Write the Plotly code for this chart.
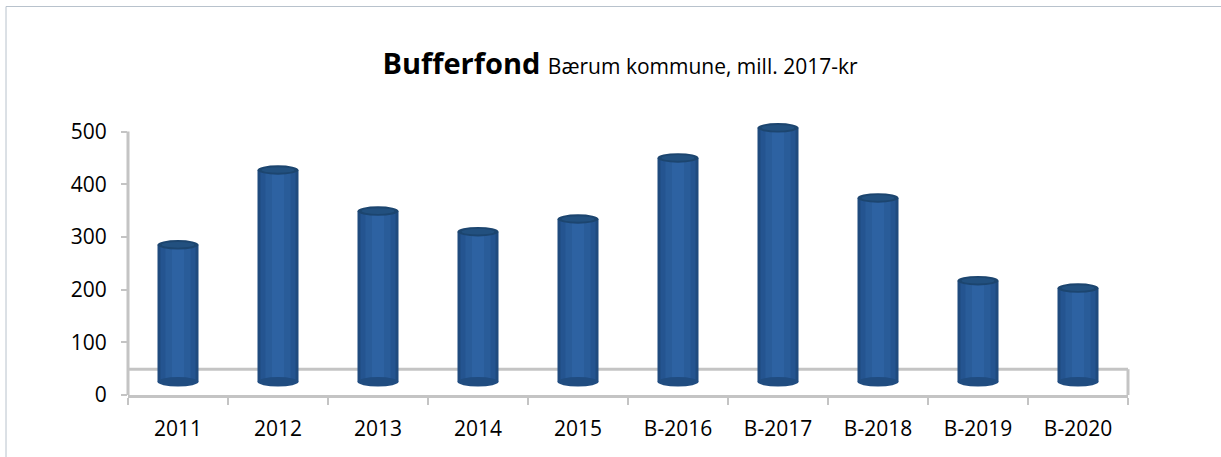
import plotly.graph_objects as go

categories = ["2011", "2012", "2013", "2014", "2015", "B-2016", "B-2017", "B-2018", "B-2019", "B-2020"]
values = [260, 402, 324, 285, 309, 425, 482, 349, 192, 178]
y_ticks = [0, 100, 200, 300, 400, 500]

# style constants (3D look emulation)
FLOOR_MID = 25      # bars sit mid-depth on the floor
FLOOR_BACK = 49     # back edge of the floor
CAP = 9             # half height of cylinder caps, axis units
W = 0.41
Y_MAX = 520
AX_TOP = 500

W_PX, H_PX = 1221, 457
L, R, T, B = 128, 93, 121, 62

fig = go.Figure()
x_idx = list(range(len(categories)))
shades = [(W, "#1f4a7e"), (0.35, "#245490"), (0.25, "#295c99"), (0.12, "#2d62a2")]
for w, c in shades:
    fig.add_trace(go.Bar(x=categories, y=values, base=[FLOOR_MID] * len(values),
                         width=w, marker=dict(color=c, line=dict(width=0)),
                         hoverinfo="skip", showlegend=False))

GRAY = "#c4c4c4"
shapes = []
# y axis line (only up to the top tick)
shapes.append(dict(type="line", xref="paper", yref="paper", x0=0, x1=0, y0=0, y1=AX_TOP / Y_MAX,
                   line=dict(color=GRAY, width=3), layer="below"))
# floor
shapes.append(dict(type="line", xref="paper", yref="paper", x0=0, x1=1,
                   y0=FLOOR_BACK / Y_MAX, y1=FLOOR_BACK / Y_MAX, line=dict(color=GRAY, width=3), layer="below"))
shapes.append(dict(type="line", xref="paper", yref="paper", x0=1, x1=1,
                   y0=0, y1=FLOOR_BACK / Y_MAX, line=dict(color=GRAY, width=3), layer="below"))
for i, v in zip(x_idx, values):
    base = FLOOR_MID
    top = FLOOR_MID + v
    shapes.append(dict(type="circle", xref="x", yref="y", x0=i - W / 2, x1=i + W / 2,
                       y0=base - CAP, y1=base + CAP, fillcolor="#204c80", line=dict(width=0), layer="above"))
    shapes.append(dict(type="circle", xref="x", yref="y", x0=i - W / 2, x1=i + W / 2,
                       y0=top - CAP, y1=top + CAP, fillcolor="#1c456f", line=dict(width=0), layer="above"))
    shapes.append(dict(type="circle", xref="x", yref="y", x0=i - W / 2 + 0.04, x1=i + W / 2 - 0.04,
                       y0=top - CAP * 0.6, y1=top + CAP * 0.6, fillcolor="#22507f", line=dict(width=0), layer="above"))

# chart area border
pw = W_PX - L - R
ph = H_PX - T - B
shapes.append(dict(type="rect", xref="paper", yref="paper",
                   x0=(6 - L) / pw, x1=(W_PX + 20 - L) / pw,
                   y0=(H_PX - B - (H_PX + 20)) / ph, y1=(H_PX - B - 6.5) / ph,
                   line=dict(color="#b8c2cc", width=1), fillcolor="rgba(0,0,0,0)", layer="below"))

fig.update_layout(
    width=W_PX, height=H_PX,
    margin=dict(l=L, r=R, t=T, b=B),
    paper_bgcolor="white", plot_bgcolor="white",
    barmode="overlay",
    shapes=shapes,
    font=dict(family="Open Sans", color="black"),
    title=dict(
        text="<b>Bufferfond</b> <span style='font-size:21px'>Bærum kommune, mill. 2017-kr</span>",
        font=dict(size=29, family="Open Sans", color="black"),
        x=620 / W_PX, xanchor="center", xref="container",
        y=1 - 64 / H_PX, yanchor="middle", yref="container",
    ),
    xaxis=dict(
        type="category", range=[-0.5, len(categories) - 0.5],
        showline=True, linecolor=GRAY, linewidth=3,
        ticks="outside", tickson="boundaries", ticklen=7, tickcolor=GRAY, tickwidth=2,
        tickfont=dict(size=21, family="Open Sans", color="black"),
        ticklabelstandoff=13,
        showgrid=False, zeroline=False, fixedrange=True, automargin=False,
    ),
    yaxis=dict(
        range=[0, Y_MAX], tickvals=y_ticks,
        showline=False,
        ticks="outside", ticklen=6, tickcolor=GRAY, tickwidth=2,
        tickfont=dict(size=21, family="Open Sans", color="black"),
        ticklabelstandoff=10,
        showgrid=False, zeroline=False, fixedrange=True, automargin=False,
    ),
)

fig.write_html("out.html", config={"displayModeBar": False},
               post_script="document.body.style.margin='0';")
